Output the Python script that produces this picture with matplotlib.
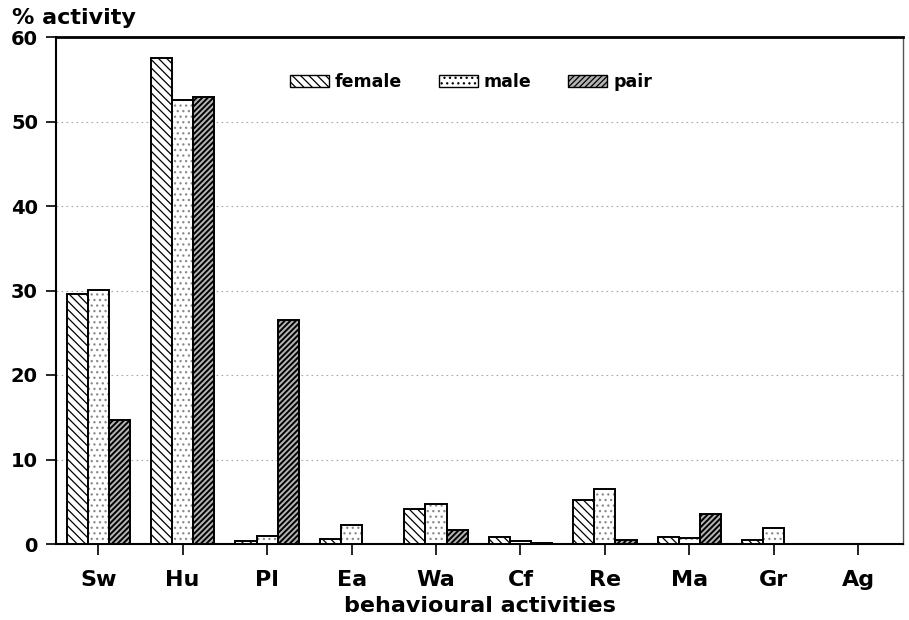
import matplotlib
matplotlib.use("Agg")
import matplotlib.pyplot as plt
import numpy as np
from matplotlib.patches import Patch

categories = ["Sw", "Hu", "Pl", "Ea", "Wa", "Cf", "Re", "Ma", "Gr", "Ag"]
female = [29.6, 57.5, 0.3, 0.6, 4.2, 0.8, 5.2, 0.8, 0.5, 0.0]
male = [30.1, 52.5, 1.0, 2.2, 4.7, 0.3, 6.5, 0.7, 1.9, 0.0]
pair = [14.7, 52.9, 26.5, 0.0, 1.6, 0.1, 0.5, 3.5, 0.0, 0.0]
yticks = [0, 10, 20, 30, 40, 50, 60]

plt.rcParams['font.family'] = ['DejaVu Sans']
plt.rcParams['hatch.linewidth'] = 0.9

fig = plt.figure(figsize=(9.09, 6.2), dpi=100)
ax = fig.add_axes([56/909, 1-544/620, (903-56)/909, (544-37)/620])

x = np.arange(len(categories))
w = 0.25

bf = ax.bar(x - w, female, w, facecolor='white', edgecolor='black', hatch='\\\\\\\\', linewidth=1.4, zorder=3)
# male: light grey dotted fill, then black outline
bm_fill = ax.bar(x, male, w, facecolor='white', edgecolor='#8a8a8a', hatch='...', linewidth=0, zorder=3)
bm = ax.bar(x, male, w, facecolor='none', edgecolor='black', linewidth=1.4, zorder=4)
bp = ax.bar(x + w, pair, w, facecolor='#b4b4b4', edgecolor='black', hatch='//////', linewidth=1.4, zorder=3)
for b in bp:
    if hasattr(b, 'set_hatch_linewidth'):
        b.set_hatch_linewidth(1.4)

ax.set_xlim(-0.5, 9.53)
ax.set_ylim(0, 60)
ax.set_yticks(yticks)
ax.set_xticks(x)
ax.set_xticklabels(categories, fontsize=16, fontweight='bold')
ax.tick_params(axis='y', labelsize=14, length=7, width=1.2, direction='out', pad=6)
ax.tick_params(axis='x', length=8, width=1.2, direction='out', pad=11)
for t in ax.get_yticklabels():
    t.set_fontweight('bold')

ax.yaxis.grid(True, linestyle=(0, (1.5, 3)), color='#a8a8a8', linewidth=0.8, zorder=0)
ax.set_axisbelow(True)

ax.spines['left'].set_linewidth(1.5)
ax.spines['bottom'].set_linewidth(1.5)
ax.spines['top'].set_linewidth(2.0)
ax.spines['right'].set_linewidth(1.0)
ax.spines['right'].set_color('#555555')

ax.set_xlabel('behavioural activities', fontsize=16, fontweight='bold')
ax.xaxis.set_label_coords(0.5, -0.102)
fig.text(12/909, 1-18/620, '% activity', fontsize=16, fontweight='bold', va='center', ha='left')

handles = [
    Patch(facecolor='white', edgecolor='black', hatch='\\\\\\\\', linewidth=1.0, label='female'),
    Patch(facecolor='white', edgecolor='#8a8a8a', hatch='...', linewidth=1.0, label='male'),
    Patch(facecolor='#b4b4b4', edgecolor='black', hatch='//////', linewidth=1.0, label='pair'),
]
leg = ax.legend(handles=handles, ncol=3, loc='center', bbox_to_anchor=(0.49, 0.911),
                frameon=False, prop={'weight': 'bold', 'size': 12.5},
                handlelength=2.25, handleheight=0.7, handletextpad=0.35, columnspacing=2.1)
for h in leg.legend_handles:
    h.set_edgecolor('black')

fig.savefig('out.png', dpi=100)
